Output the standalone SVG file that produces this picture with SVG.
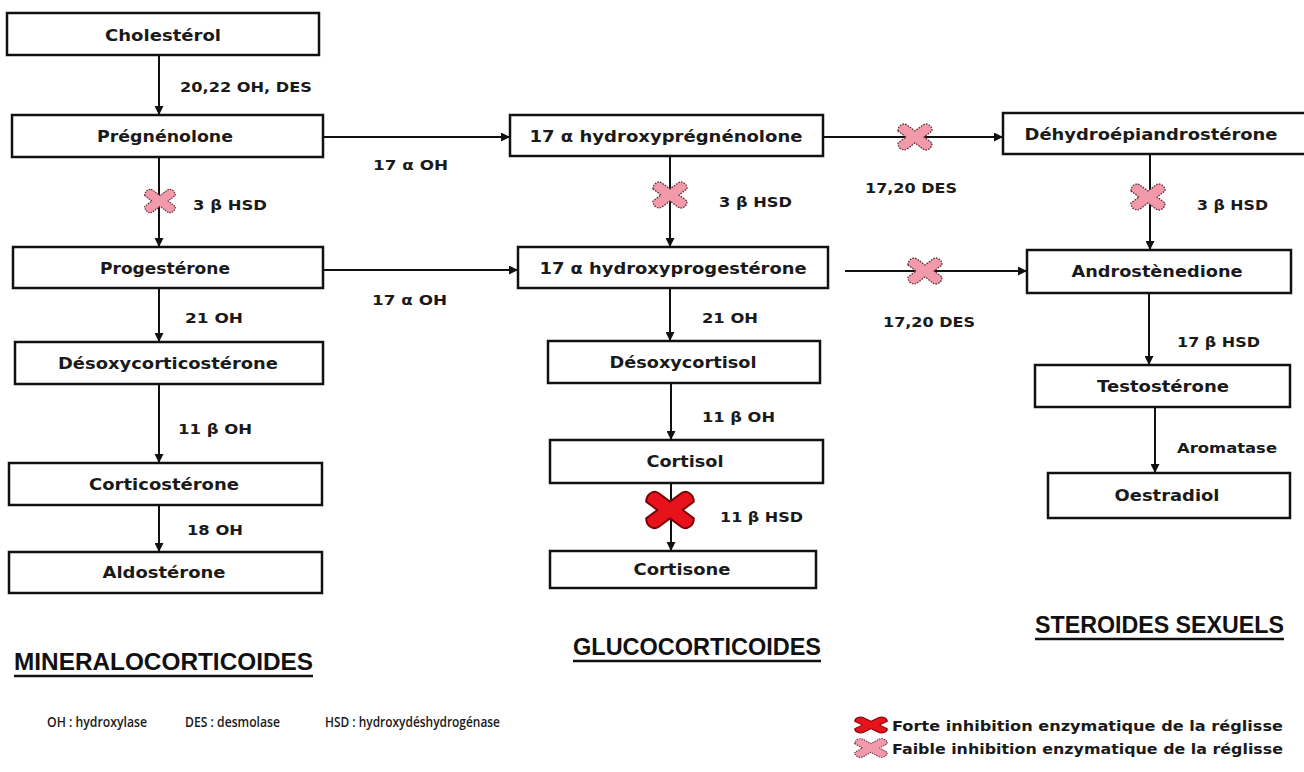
<svg xmlns="http://www.w3.org/2000/svg" width="1304" height="772" viewBox="0 0 1304 772">
<style>
.box{fill:#fff;stroke:#111;stroke-width:2.5}
.nt{font-family:"DejaVu Sans",Verdana,sans-serif;font-weight:bold;font-size:15px;fill:#1a1a1a;text-anchor:middle}
.lb{font-family:"DejaVu Sans",Verdana,sans-serif;font-weight:bold;font-size:13.5px;fill:#1a1a1a}
.lg{font-family:"Open Sans","Liberation Sans",sans-serif;font-weight:600;font-size:14px;fill:#1a1a1a}
.lg2{font-family:"DejaVu Sans",Verdana,sans-serif;font-weight:bold;font-size:14px;fill:#1a1a1a}
.ti{font-family:"Liberation Sans",Arial,sans-serif;font-weight:bold;font-size:23px;fill:#111}
.ul{stroke:#111;stroke-width:2.5}
.cn{fill:none;stroke:#111;stroke-width:2;marker-end:url(#ah)}
.pk{fill:#f29aaa;stroke:#5a2a32;stroke-width:1.3;stroke-dasharray:1.6 1.2;stroke-linejoin:round}
.rd{fill:#e8121c;stroke:#7a0006;stroke-width:1.4;stroke-linejoin:round}
</style>
<defs>
<marker id="ah" viewBox="0 0 10 10" refX="10" refY="5" markerWidth="4.5" markerHeight="4.5" orient="auto">
<path d="M0,0 L10,5 L0,10 z" fill="#111"/>
</marker>
<path id="x" d="M-17,-6 Q-17,-10 -14,-12 Q-11,-14 -8,-12 L0,-6 L8,-12 Q11,-14 14,-12 Q17,-10 17,-6 L9,0 L17,6 Q17,10 14,12 Q11,14 8,12 L0,6 L-8,12 Q-11,14 -14,12 Q-17,10 -17,6 L-9,0 Z"/>
</defs>
<rect width="1304" height="772" fill="#fff"/>

<g id="connectors">
<path class="cn" d="M159,55 V115"/>
<path class="cn" d="M323,137 H510"/>
<path class="cn" d="M159,157 V247"/>
<path class="cn" d="M323,270 H518"/>
<path class="cn" d="M670,156 V247"/>
<path class="cn" d="M823,137 H1003"/>
<path class="cn" d="M845,271 H1027"/>
<path class="cn" d="M1150,154 V250"/>
<path class="cn" d="M159,288 V342"/>
<path class="cn" d="M159,384 V463"/>
<path class="cn" d="M159,505 V552"/>
<path class="cn" d="M670,288 V341"/>
<path class="cn" d="M671,383 V440"/>
<path class="cn" d="M671,483 V551"/>
<path class="cn" d="M1149,293 V365"/>
<path class="cn" d="M1155,407 V473"/>
</g>

<g id="inhibitions">
<use href="#x" class="pk" transform="translate(160,201) scale(0.9)"/>
<use href="#x" class="pk" transform="translate(670,195)"/>
<use href="#x" class="pk" transform="translate(1148,197)"/>
<use href="#x" class="pk" transform="translate(915,137)"/>
<use href="#x" class="pk" transform="translate(925,271)"/>
<use href="#x" class="rd" transform="translate(670,510) scale(1.4)"/>
</g>

<g id="n-cholesterol"><rect class="box" x="7" y="13" width="312" height="42"/><text class="nt" x="163" y="41" textLength="116" lengthAdjust="spacingAndGlyphs">Cholestérol</text></g>
<g id="n-pregnenolone"><rect class="box" x="12" y="115" width="311" height="42"/><text class="nt" x="165" y="142" textLength="136" lengthAdjust="spacingAndGlyphs">Prégnénolone</text></g>
<g id="n-progesterone"><rect class="box" x="13" y="247" width="310" height="41"/><text class="nt" x="165" y="274" textLength="130" lengthAdjust="spacingAndGlyphs">Progestérone</text></g>
<g id="n-desoxycorticosterone"><rect class="box" x="15" y="342" width="308" height="42"/><text class="nt" x="168" y="369" textLength="220" lengthAdjust="spacingAndGlyphs">Désoxycorticostérone</text></g>
<g id="n-corticosterone"><rect class="box" x="9" y="463" width="313" height="42"/><text class="nt" x="164" y="490" textLength="150" lengthAdjust="spacingAndGlyphs">Corticostérone</text></g>
<g id="n-aldosterone"><rect class="box" x="9" y="552" width="313" height="41"/><text class="nt" x="164" y="578" textLength="123" lengthAdjust="spacingAndGlyphs">Aldostérone</text></g>

<g id="n-17ohpreg"><rect class="box" x="510" y="115" width="313" height="41"/><text class="nt" x="666" y="142" textLength="273" lengthAdjust="spacingAndGlyphs">17 α hydroxyprégnénolone</text></g>
<g id="n-17ohprog"><rect class="box" x="518" y="247" width="310" height="41"/><text class="nt" x="673" y="274" textLength="267" lengthAdjust="spacingAndGlyphs">17 α hydroxyprogestérone</text></g>
<g id="n-desoxycortisol"><rect class="box" x="548" y="341" width="272" height="42"/><text class="nt" x="683" y="368" textLength="147" lengthAdjust="spacingAndGlyphs">Désoxycortisol</text></g>
<g id="n-cortisol"><rect class="box" x="550" y="440" width="273" height="43"/><text class="nt" x="685" y="467" textLength="77" lengthAdjust="spacingAndGlyphs">Cortisol</text></g>
<g id="n-cortisone"><rect class="box" x="550" y="551" width="266" height="37"/><text class="nt" x="682" y="575" textLength="97" lengthAdjust="spacingAndGlyphs">Cortisone</text></g>

<g id="n-dhea"><rect class="box" x="1003" y="113" width="305" height="41"/><text class="nt" x="1151" y="140" textLength="253" lengthAdjust="spacingAndGlyphs">Déhydroépiandrostérone</text></g>
<g id="n-androstenedione"><rect class="box" x="1027" y="250" width="264" height="43"/><text class="nt" x="1157" y="277" textLength="171" lengthAdjust="spacingAndGlyphs">Androstènedione</text></g>
<g id="n-testosterone"><rect class="box" x="1035" y="365" width="255" height="42"/><text class="nt" x="1163" y="392" textLength="132" lengthAdjust="spacingAndGlyphs">Testostérone</text></g>
<g id="n-oestradiol"><rect class="box" x="1048" y="473" width="242" height="45"/><text class="nt" x="1167" y="501" textLength="105" lengthAdjust="spacingAndGlyphs">Oestradiol</text></g>

<g id="labels">
<text class="lb" x="180" y="92" textLength="132" lengthAdjust="spacingAndGlyphs">20,22 OH, DES</text>
<text class="lb" x="193" y="210" textLength="74" lengthAdjust="spacingAndGlyphs">3 β HSD</text>
<text class="lb" x="373" y="170" textLength="75" lengthAdjust="spacingAndGlyphs">17 α OH</text>
<text class="lb" x="372" y="305" textLength="75" lengthAdjust="spacingAndGlyphs">17 α OH</text>
<text class="lb" x="719" y="207" textLength="73" lengthAdjust="spacingAndGlyphs">3 β HSD</text>
<text class="lb" x="865" y="193" textLength="92" lengthAdjust="spacingAndGlyphs">17,20 DES</text>
<text class="lb" x="883" y="327" textLength="92" lengthAdjust="spacingAndGlyphs">17,20 DES</text>
<text class="lb" x="1197" y="210" textLength="71" lengthAdjust="spacingAndGlyphs">3 β HSD</text>
<text class="lb" x="185" y="323" textLength="58" lengthAdjust="spacingAndGlyphs">21 OH</text>
<text class="lb" x="178" y="434" textLength="74" lengthAdjust="spacingAndGlyphs">11 β OH</text>
<text class="lb" x="187" y="535" textLength="56" lengthAdjust="spacingAndGlyphs">18 OH</text>
<text class="lb" x="702" y="323" textLength="56" lengthAdjust="spacingAndGlyphs">21 OH</text>
<text class="lb" x="702" y="422" textLength="73" lengthAdjust="spacingAndGlyphs">11 β OH</text>
<text class="lb" x="720" y="522" textLength="83" lengthAdjust="spacingAndGlyphs">11 β HSD</text>
<text class="lb" x="1177" y="347" textLength="83" lengthAdjust="spacingAndGlyphs">17 β HSD</text>
<text class="lb" x="1177" y="453" font-size="12.5" textLength="100" lengthAdjust="spacingAndGlyphs">Aromatase</text>
</g>

<g id="titles">
<text class="ti" x="14" y="670" textLength="299" lengthAdjust="spacingAndGlyphs">MINERALOCORTICOIDES</text>
<line class="ul" x1="14" y1="676" x2="313" y2="676"/>
<text class="ti" x="573" y="655" textLength="248" lengthAdjust="spacingAndGlyphs">GLUCOCORTICOIDES</text>
<line class="ul" x1="573" y1="661" x2="821" y2="661"/>
<text class="ti" x="1035" y="633" textLength="249" lengthAdjust="spacingAndGlyphs">STEROIDES SEXUELS</text>
<line class="ul" x1="1035" y1="639" x2="1284" y2="639"/>
</g>

<g id="legend">
<text class="lg" x="47" y="727" textLength="100" lengthAdjust="spacingAndGlyphs">OH : hydroxylase</text>
<text class="lg" x="185" y="727" textLength="95" lengthAdjust="spacingAndGlyphs">DES : desmolase</text>
<text class="lg" x="325" y="727" textLength="175" lengthAdjust="spacingAndGlyphs">HSD : hydroxydéshydrogénase</text>
<use href="#x" class="rd" transform="translate(871,725) scale(0.95,0.62)"/>
<text class="lg2" x="892" y="731" textLength="391" lengthAdjust="spacingAndGlyphs">Forte inhibition enzymatique de la réglisse</text>
<use href="#x" class="pk" transform="translate(871,748) scale(0.95,0.72)"/>
<text class="lg2" x="892" y="754" textLength="391" lengthAdjust="spacingAndGlyphs">Faible inhibition enzymatique de la réglisse</text>
</g>
</svg>
